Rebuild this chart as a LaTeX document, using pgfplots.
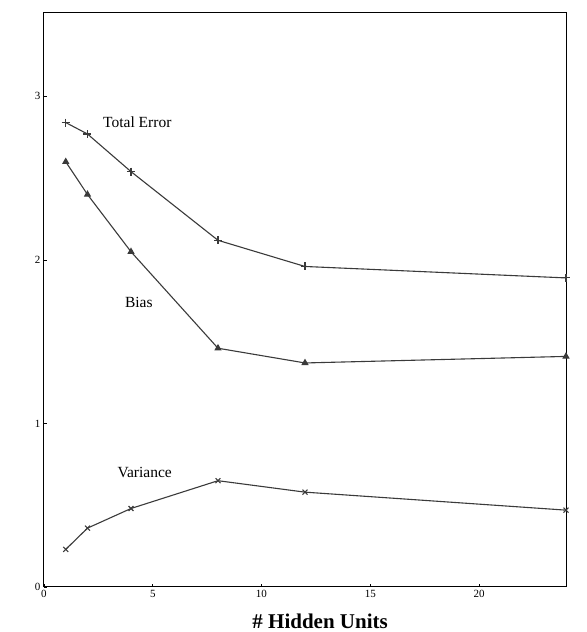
\documentclass[border=0pt]{standalone}
\usepackage{pgfplots}
\pgfplotsset{compat=1.18}
\usepackage{fontspec}
\setmainfont{Liberation Serif}

\definecolor{curve}{HTML}{3A3A3A}

\begin{document}
\begin{tikzpicture}
\begin{axis}[
  name=ax,
  scale only axis,
  width=522pt, height=574pt,
  xmin=0, xmax=24, ymin=0, ymax=3.51,
  xtick={0,5,10,15,20}, ytick={0,1,2,3},
  tick align=inside, xtick pos=left, ytick pos=left,
  major tick length=3pt,
  axis line style={line width=1pt},
  tick style={line width=0.8pt, black},
  /pgf/number format/assume math mode=true,
  tick label style={font=\fontsize{11}{11}\selectfont},
  xlabel={\textbf{\# Hidden Units}},
  xlabel style={font=\fontsize{21}{21}\selectfont,
    at={(axis description cs:0.529,0)}, anchor=base, yshift=-41pt},
  clip=false,
]
% total error
\addplot[color=curve, line width=1.1pt, mark=+, mark size=4pt,
  mark options={line width=1.1pt}] coordinates {
  (1,2.84) (2,2.77) (4,2.54) (8,2.12) (12,1.96) (24,1.89)};
% bias
\addplot[color=curve, line width=1.1pt, mark=triangle*, mark size=3.2pt,
  mark options={fill=curve}] coordinates {
  (1,2.60) (2,2.40) (4,2.05) (8,1.46) (12,1.37) (24,1.41)};
% variance
\addplot[color=curve, line width=1.1pt, mark=x, mark size=3.5pt,
  mark options={line width=1.1pt}] coordinates {
  (1,0.23) (2,0.36) (4,0.48) (8,0.65) (12,0.58) (24,0.47)};

\node[font=\fontsize{15.5}{15.5}\selectfont] at (axis cs:4.29,2.84) {Total Error};
\node[font=\fontsize{15.5}{15.5}\selectfont] at (axis cs:4.36,1.74) {Bias};
\node[font=\fontsize{15.5}{15.5}\selectfont] at (axis cs:4.63,0.70) {Variance};
\end{axis}
\path ([xshift=-44pt,yshift=-45pt]ax.south west) rectangle ([xshift=21pt,yshift=13pt]ax.north east);
\end{tikzpicture}
\end{document}
